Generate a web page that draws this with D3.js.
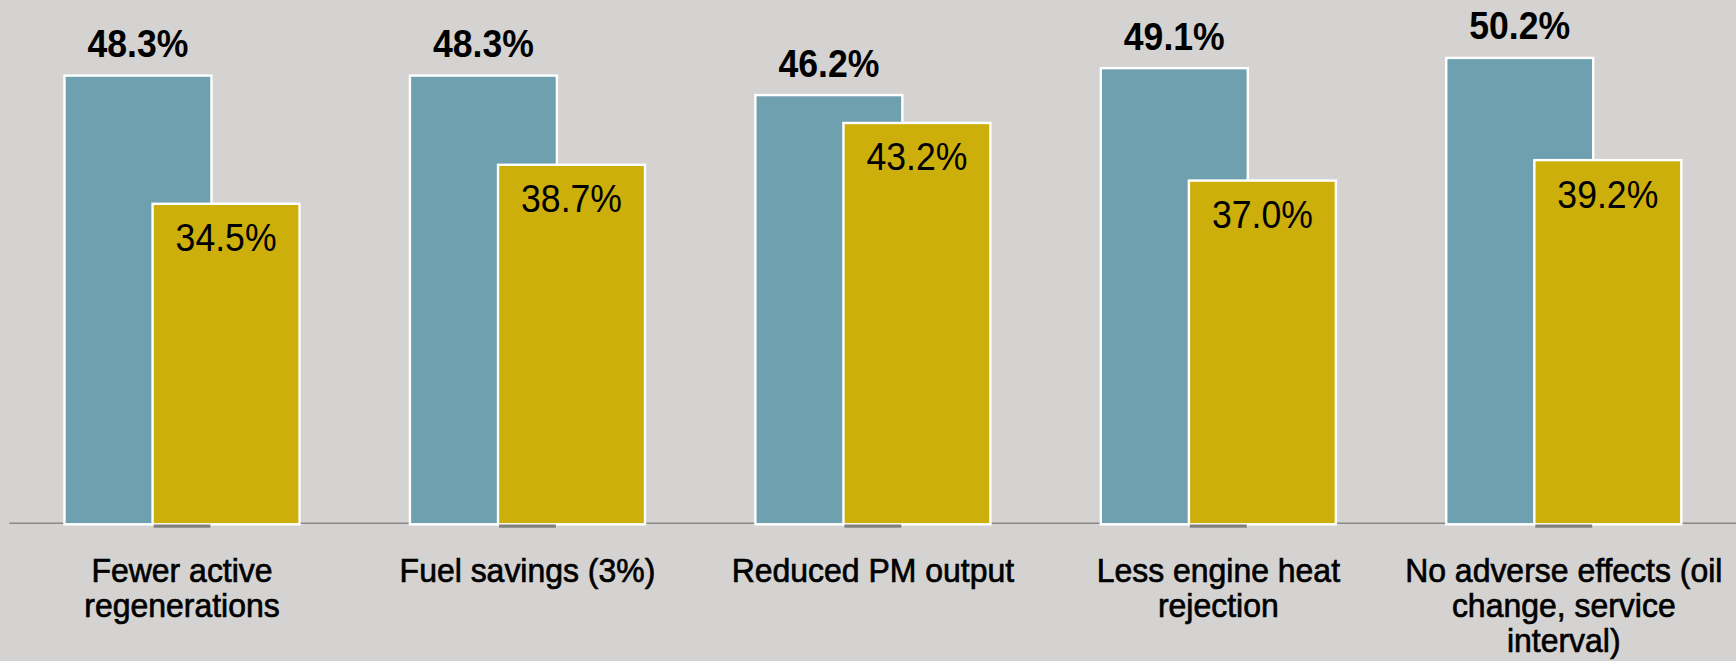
<!DOCTYPE html>
<html>
<head>
<meta charset="utf-8">
<script src="https://cdn.jsdelivr.net/npm/d3@7"></script>
<style>
  html, body { margin: 0; padding: 0; background: #d4d3d1; }
  svg { display: block; }
  text { font-family: "Liberation Sans", Arial, sans-serif; }
</style>
</head>
<body>
<div id="chart"></div>
<script>
const categories = [
  "Fewer active regenerations",
  "Fuel savings (3%)",
  "Reduced PM output",
  "Less engine heat rejection",
  "No adverse effects (oil change, service interval)"
];
const categoryLines = [
  ["Fewer active", "regenerations"],
  ["Fuel savings (3%)"],
  ["Reduced PM output"],
  ["Less engine heat", "rejection"],
  ["No adverse effects (oil", "change, service", "interval)"]
];
const seriesA = [48.3, 48.3, 46.2, 49.1, 50.2];
const seriesB = [34.5, 38.7, 43.2, 37.0, 39.2];

const width = 1736;
const height = 661;
const baseY = 524.3;
const pxPerPct = 9.29;
const valueLabelW = 101; // measured width of the % labels

const svg = d3.select("#chart")
  .append("svg")
  .attr("width", width)
  .attr("height", height);

svg.append("rect")
  .attr("width", width)
  .attr("height", height)
  .attr("fill", "#d4d3d1");

const x = d3.scaleBand()
  .domain(categories)
  .range([9.3, 1736.5])
  .padding(0);

const y = d3.scaleLinear()
  .domain([0, 100])
  .range([baseY, baseY - 100 * pxPerPct]);

const barW = x.bandwidth() * 0.4255;
const shift = x.bandwidth() * 0.1275;
const center = c => x(c) + x.bandwidth() / 2;

// axis line
svg.append("line")
  .attr("x1", x.range()[0])
  .attr("x2", width)
  .attr("y1", y(0) - 1)
  .attr("y2", y(0) - 1)
  .attr("stroke", "#8a8a8a")
  .attr("stroke-width", 1.6);

const rows = categories.map((c, i) => ({ c, a: seriesA[i], b: seriesB[i], lines: categoryLines[i] }));

svg.selectAll("rect.a")
  .data(rows)
  .enter()
  .append("rect")
  .attr("class", "a")
  .attr("x", d => center(d.c) - shift - barW / 2)
  .attr("y", d => y(d.a))
  .attr("width", barW)
  .attr("height", d => y(0) - y(d.a))
  .attr("fill", "#6fa0b0")
  .attr("stroke", "#ffffff")
  .attr("stroke-width", 2.4);

svg.selectAll("rect.b")
  .data(rows)
  .enter()
  .append("rect")
  .attr("class", "b")
  .attr("x", d => center(d.c) + shift - barW / 2)
  .attr("y", d => y(d.b))
  .attr("width", barW)
  .attr("height", d => y(0) - y(d.b))
  .attr("fill", "#ccaf0b")
  .attr("stroke", "#ffffff")
  .attr("stroke-width", 2.4);

// darker piece of axis under the overlap
svg.selectAll("rect.ov")
  .data(rows)
  .enter()
  .append("rect")
  .attr("x", d => center(d.c) + shift - barW / 2 + 1)
  .attr("y", y(0) + 0.2)
  .attr("width", 2 * (barW / 2 - shift) - 2)
  .attr("height", 3.2)
  .attr("fill", "#7f7f7f");

// value labels, squeezed horizontally to the narrow look of the original
function squeeze(sel, cx, cy) {
  sel.each(function(d) {
    const w = this.getComputedTextLength();
    const k = w > 0 ? valueLabelW / w : 0.78;
    d3.select(this).attr("transform", `translate(${cx(d)},${cy(d)}) scale(${k},1)`);
  });
}

svg.selectAll("text.va")
  .data(rows)
  .enter()
  .append("text")
  .attr("text-anchor", "middle")
  .attr("font-size", 38.5)
  .attr("font-weight", "bold")
  .attr("fill", "#000")
  .text(d => d.a.toFixed(1) + "%")
  .call(squeeze, d => center(d.c) - shift, d => y(d.a) - 18.5);

svg.selectAll("text.vb")
  .data(rows)
  .enter()
  .append("text")
  .attr("text-anchor", "middle")
  .attr("font-size", 38.5)
  .attr("fill", "#000")
  .text(d => d.b.toFixed(1) + "%")
  .call(squeeze, d => center(d.c) + shift, d => y(d.b) + 47.5);

// category labels
const cat = svg.selectAll("text.cat")
  .data(rows)
  .enter()
  .append("text")
  .attr("transform", d => `translate(${center(d.c)},581.5) scale(0.94,1)`)
  .attr("text-anchor", "middle")
  .attr("font-size", 34)
  .attr("fill", "#000")
  .attr("stroke", "#000")
  .attr("stroke-width", 0.7);

cat.selectAll("tspan")
  .data(d => d.lines)
  .enter()
  .append("tspan")
  .attr("x", 0)
  .attr("dy", (d, i) => i === 0 ? 0 : 35.5)
  .text(d => d);
</script>
</body>
</html>
